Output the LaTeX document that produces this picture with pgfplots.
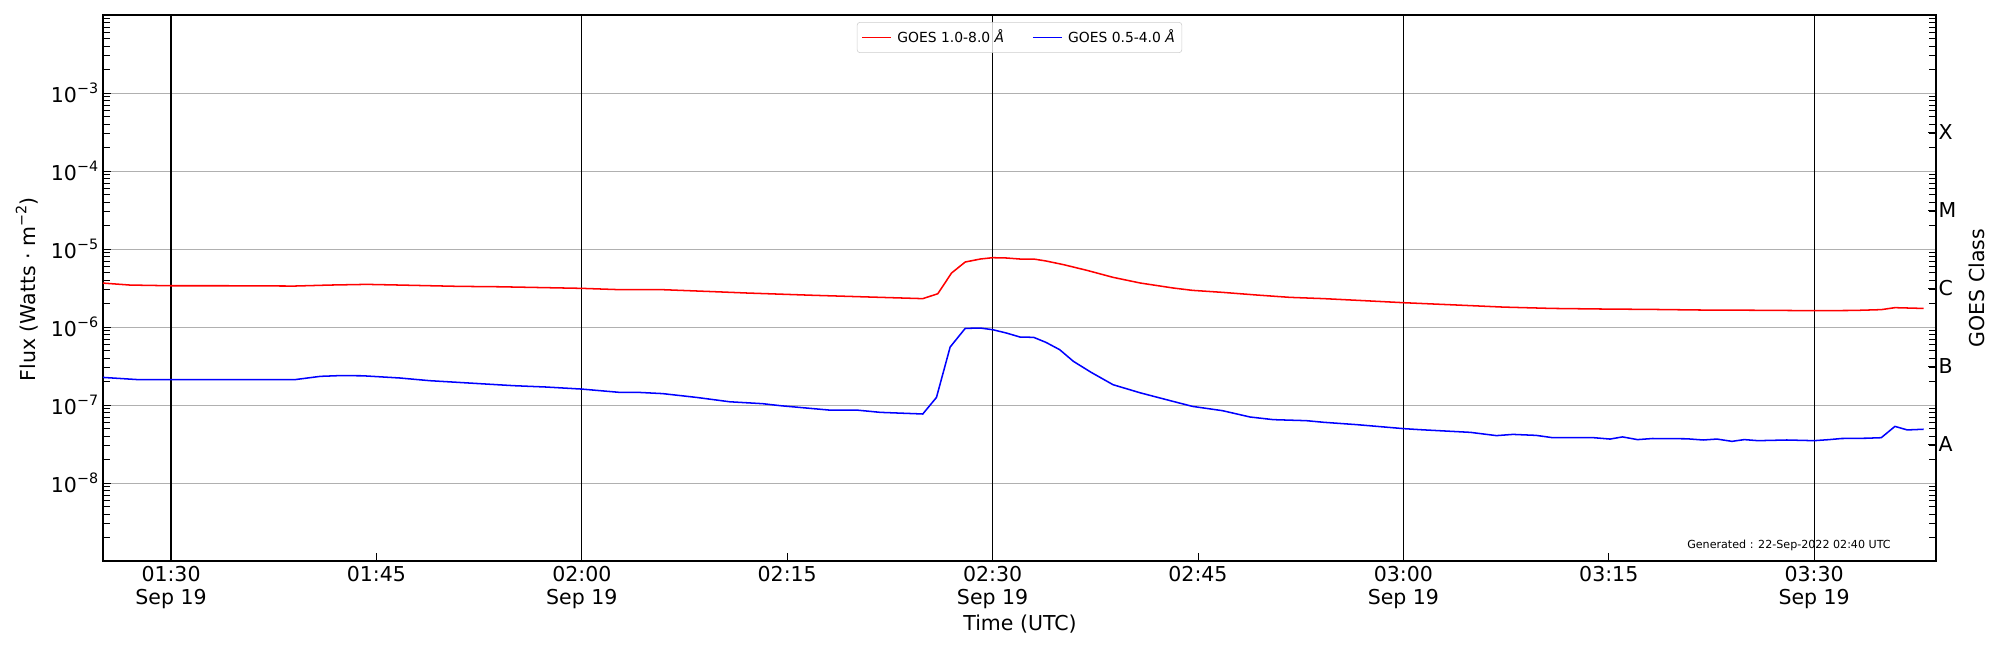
\documentclass[border=0pt]{standalone}
\usepackage{fontspec}
\setmainfont{DejaVu Sans}
\usepackage{pgfplots}
\pgfplotsset{compat=1.18}
\usepackage{pgfplotstable}
\definecolor{gridgray}{HTML}{B0B0B0}
\newcommand\pw[1]{10\raisebox{0.42em}{\fontsize{10.3bp}{11bp}\selectfont −#1}}
\newcommand\tickfont{\fontsize{14.76bp}{16.6bp}\selectfont}

\pgfplotstableread{
t f
85 3.66e-6
87 3.45e-6
90 3.38e-6
94 3.38e-6
99 3.35e-6
101.6 3.45e-6
104.3 3.52e-6
106.7 3.45e-6
111 3.32e-6
114 3.28e-6
120 3.13e-6
122.8 3.01e-6
125.9 3.01e-6
129.6 2.84e-6
132 2.73e-6
136.9 2.55e-6
141.8 2.40e-6
144.9 2.31e-6
146 2.67e-6
147 4.92e-6
148 6.81e-6
149.1 7.44e-6
150 7.74e-6
151 7.67e-6
152 7.44e-6
153 7.44e-6
153.9 7.02e-6
155.2 6.29e-6
156.9 5.32e-6
158.8 4.33e-6
160.8 3.66e-6
163.2 3.16e-6
164.6 2.95e-6
166.8 2.78e-6
169.3 2.57e-6
171.7 2.40e-6
174.2 2.31e-6
176.6 2.20e-6
180 2.05e-6
184.9 1.88e-6
187.3 1.80e-6
190.9 1.73e-6
194.6 1.70e-6
198.2 1.68e-6
201.9 1.65e-6
205.5 1.64e-6
210 1.62e-6
212.9 1.63e-6
214.9 1.67e-6
215.9 1.77e-6
218 1.73e-6
}\redtab

\pgfplotstableread{
t f
85 2.26e-7
87.7 2.11e-7
92 2.11e-7
99 2.11e-7
100.9 2.33e-7
102.3 2.38e-7
104 2.37e-7
106.7 2.22e-7
108.9 2.05e-7
112.5 1.88e-7
115 1.77e-7
117.4 1.70e-7
120 1.60e-7
122.8 1.45e-7
124.2 1.45e-7
125.9 1.40e-7
128.4 1.25e-7
130.8 1.10e-7
133.2 1.04e-7
134.5 9.8e-8
138.1 8.6e-8
140.1 8.6e-8
141.8 8.05e-8
144.9 7.67e-8
145.9 1.25e-7
146.9 5.54e-7
148 9.6e-7
149.1 9.7e-7
150 9.24e-7
151 8.38e-7
152 7.44e-7
153 7.37e-7
153.9 6.35e-7
154.9 5.12e-7
155.9 3.63e-7
157.2 2.62e-7
158.8 1.82e-7
160.8 1.43e-7
163.2 1.11e-7
164.6 9.6e-8
166.8 8.45e-8
168.8 7.02e-8
170.5 6.49e-8
172.9 6.3e-8
174.2 6.0e-8
176.6 5.6e-8
180 4.98e-8
181.2 4.83e-8
184.9 4.46e-8
186.8 4.05e-8
188 4.2e-8
189.7 4.08e-8
190.9 3.81e-8
193.9 3.81e-8
195.1 3.66e-8
196 3.9e-8
197.1 3.6e-8
198.2 3.72e-8
200.7 3.69e-8
201.9 3.56e-8
202.9 3.66e-8
204 3.42e-8
204.9 3.6e-8
205.9 3.49e-8
208 3.56e-8
210 3.49e-8
211.1 3.6e-8
212 3.72e-8
213.8 3.75e-8
214.9 3.81e-8
215.9 5.32e-8
216.8 4.79e-8
218 4.89e-8
}\bluetab

\pgfplotsset{logminor/.style={minor ytick={2e-9,3e-9,4e-9,5e-9,6e-9,7e-9,8e-9,9e-9,2e-8,3e-8,4e-8,5e-8,6e-8,7e-8,8e-8,9e-8,2e-7,3e-7,4e-7,5e-7,6e-7,7e-7,8e-7,9e-7,2e-6,3e-6,4e-6,5e-6,6e-6,7e-6,8e-6,9e-6,2e-5,3e-5,4e-5,5e-5,6e-5,7e-5,8e-5,9e-5,2e-4,3e-4,4e-4,5e-4,6e-4,7e-4,8e-4,9e-4,2e-3,3e-3,4e-3,5e-3,6e-3,7e-3,8e-3,9e-3}}}

\begin{document}
\begin{tikzpicture}
\useasboundingbox (0,0) rectangle (1440bp,468bp);
\begin{axis}[
  at={(74.16bp,64.08bp)}, anchor=south west,
  scale only axis, width=1319.76bp, height=393.12bp,
  ymode=log, xmin=85.03, xmax=218.9, ymin=1e-9, ymax=1e-2,
  axis line style={black, line width=0.9bp},
  tick align=inside, major tick length=5.5bp, minor tick length=5bp,
  every tick/.style={black, line width=0.7bp},
  xtick pos=bottom, ytick pos=left,
  xtick={90,105,120,135,150,165,180,195,210},
  xticklabels={01:30\\Sep 19,01:45,02:00\\Sep 19,02:15,02:30\\Sep 19,02:45,03:00\\Sep 19,03:15,03:30\\Sep 19},
  xticklabel style={align=center, font=\tickfont},
  ytick={1e-8,1e-7,1e-6,1e-5,1e-4,1e-3},
  yticklabels={\pw{8},\pw{7},\pw{6},\pw{5},\pw{4},\pw{3}},
  yticklabel style={font=\tickfont},
  logminor,
  ymajorgrids, major grid style={gridgray, line width=0.7bp},
  legend columns=2,
  legend style={at={(0.5,0.987)}, anchor=north, draw=black!20, rounded corners=2bp,
    fill=white, fill opacity=0.8, text opacity=1,
    inner xsep=3bp, inner ysep=3.5bp,
    font=\fontsize{10bp}{12bp}\selectfont,
    /tikz/every odd column/.append style={column sep=2bp},
    /tikz/every even column/.append style={column sep=18bp}},
  legend image code/.code={\draw[#1] (0bp,0bp) -- (20.9bp,0bp);},
]
\draw[black, line width=0.9bp] (axis cs:90,1e-9) -- (axis cs:90,1e-2);
\draw[black, line width=0.9bp] (axis cs:120,1e-9) -- (axis cs:120,1e-2);
\draw[black, line width=0.9bp] (axis cs:150,1e-9) -- (axis cs:150,1e-2);
\draw[black, line width=0.9bp] (axis cs:180,1e-9) -- (axis cs:180,1e-2);
\draw[black, line width=0.9bp] (axis cs:210,1e-9) -- (axis cs:210,1e-2);
\addplot[red, line width=1.1bp] table[x=t,y=f] {\redtab};
\addlegendentry{GOES 1.0-8.0 \textit{Å}}
\addplot[blue, line width=1.1bp] table[x=t,y=f] {\bluetab};
\addlegendentry{GOES 0.5-4.0 \textit{Å}}
\end{axis}
\begin{axis}[
  at={(74.16bp,64.08bp)}, anchor=south west,
  scale only axis, width=1319.76bp, height=393.12bp,
  ymode=log, xmin=85.03, xmax=218.9, ymin=1e-9, ymax=1e-2,
  axis x line=none, axis y line*=right,
  axis line style={black, line width=0.9bp},
  tick align=inside, major tick length=5.5bp, minor tick length=5bp,
  every tick/.style={black, line width=0.7bp},
  ytick={3.1623e-8,3.1623e-7,3.1623e-6,3.1623e-5,3.1623e-4},
  yticklabels={A,B,C,M,X},
  yticklabel style={font=\tickfont, xshift=-1.7bp},
  logminor,
]
\addplot[draw=none] coordinates {(100,1e-6)};
\end{axis}
\node[rotate=90, anchor=base, font=\tickfont] at (25.2bp,259.6bp) {Flux (Watts · m\raisebox{0.42em}{\fontsize{10.3bp}{11bp}\selectfont −2})};
\node[rotate=90, anchor=base, font=\tickfont] at (1429bp,260.6bp) {GOES Class};
\node[anchor=base, font=\tickfont] at (734.4bp,13.7bp) {Time (UTC)};
\node[anchor=base east, inner sep=0pt, font=\fontsize{8bp}{9.6bp}\selectfont] at (1361.5bp,73.4bp) {Generated : 22-Sep-2022 02:40 UTC};
\end{tikzpicture}
\end{document}
